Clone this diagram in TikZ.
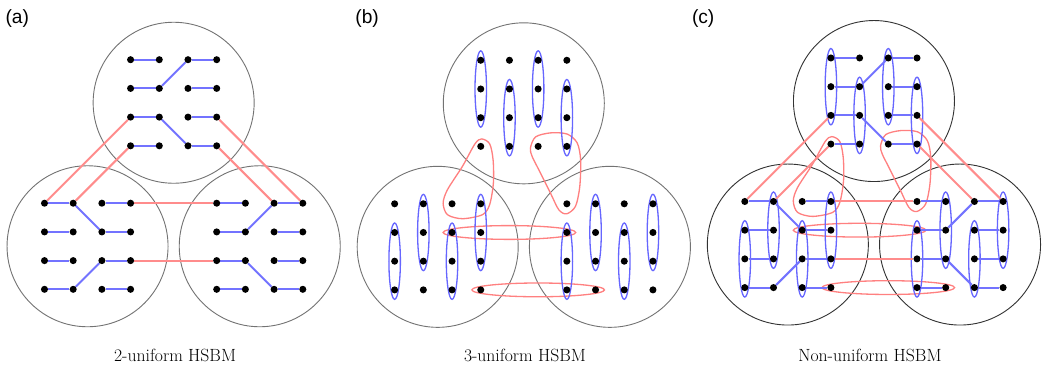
\documentclass[tikz,border=0pt]{standalone}
\usepackage{fontspec}
\newfontfamily\labelfont{Liberation Sans}
\usepackage{tikz}
\usetikzlibrary{calc}
\pgfdeclarelayer{back}
\pgfdeclarelayer{links}
\pgfsetlayers{back,links,main}

\begin{document}
\begin{tikzpicture}[inner sep=0pt,
	dot/.style={circle, fill=black, minimum size=7pt},
	cluster/.style={circle, line width=0.9pt, minimum size=5.61cm},
	pair/.style={draw=blue!55, line width=2pt},
	triple/.style={draw=blue!60, line width=1.3pt},
	cross/.style={draw=red!45, line width=2pt},
	hedge/.style={draw=red!50, line width=1.3pt},
	tag/.style={font=\labelfont\fontsize{19}{22}\selectfont},
	caption/.style={font=\fontsize{17.5}{21}\selectfont}]
	\useasboundingbox (0,0) rectangle (36.34,-12.93);

	% three communities per panel, 4x4 vertices each
	\foreach \p/\px/\py/\tone in {a/6.05/-3.58/55, b/18.25/-3.6/55, c/30.45/-3.52/80} {
		\foreach \c/\cx/\cy in {T/0/0, L/-3/-5, R/3/-5} {
			\begin{pgfonlayer}{back}
				\node[cluster, draw=black!\tone](\p\c) at (\px+\cx,\py+\cy) {};
			\end{pgfonlayer}
			\foreach \i in {0,...,3}
				\foreach \j in {0,...,3}
					\node[dot](\p\c\i\j) at (\px+\cx+\i-1.5,\py+\cy+1.5-\j) {};
		}
	}

	\begin{pgfonlayer}{links}
		% hyperedges of size 3
		\foreach \p in {b,c} {
			\draw[hedge, shift={(\p T03)}] plot[smooth cycle] coordinates {(0.03,0.26) (0.31,0.09) (0.43,-0.47) (0.44,-1.28) (0.31,-2.03) (0.06,-2.38) (-0.64,-2.52) (-1.16,-2.38) (-1.31,-1.98) (-1.16,-1.51) (-0.64,-0.70) (-0.20,0.09)};
			\draw[hedge, shift={(\p T23)}] plot[smooth cycle] coordinates {(-0.27,-0.06) (-0.09,0.33) (0.43,0.47) (1.01,0.43) (1.36,0.12) (1.48,-0.47) (1.45,-1.40) (1.30,-2.09) (0.99,-2.35) (0.72,-2.21) (0.43,-1.63) (0.02,-0.81) (-0.21,-0.35)};
			\draw[hedge] ($(\p L21)!0.5!(\p R01)$) ellipse (2.31 and 0.24);
			\draw[hedge] ($(\p L33)!0.5!(\p R13)$) ellipse (2.31 and 0.24);
			\foreach \m in {T01, T12, T21, T32, L02, L11, L22, L31, R02, R11, R22, R31}
				\draw[triple] (\p\m) ellipse (0.2 and 1.33);
		}

		% edges of size 2
		\foreach \p in {a,c} {
			\foreach \u/\v in {T02/L00, T03/L10, T32/R30, T33/R20, L30/R00, L32/R02}
				\draw[cross] (\p\u) -- (\p\v);
			\foreach \u/\v in {T00/T10, T20/T30, T01/T11, T11/T20, T21/T31, T02/T12, T12/T23, T22/T32, T03/T13, T23/T33,
					L00/L10, L20/L30, L10/L21, L01/L11, L21/L31, L02/L12, L22/L32, L13/L22, L03/L13, L23/L33,
					R00/R10, R20/R30, R11/R20, R01/R11, R21/R31, R02/R12, R22/R32, R12/R23, R03/R13, R23/R33}
				\draw[pair] (\p\u) -- (\p\v);
		}
	\end{pgfonlayer}

	\node[tag](tagA) at (0.6,-0.63) {(a)};
	\node[tag](tagB) at (12.79,-0.63) {(b)};
	\node[tag](tagC) at (24.5,-0.63) {(c)};

	\node[caption](capA) at (6.10,-12.37) {2-uniform HSBM};
	\node[caption](capB) at (18.29,-12.37) {3-uniform HSBM};
	\node[caption](capC) at (30.31,-12.37) {Non-uniform HSBM};
\end{tikzpicture}
\end{document}
